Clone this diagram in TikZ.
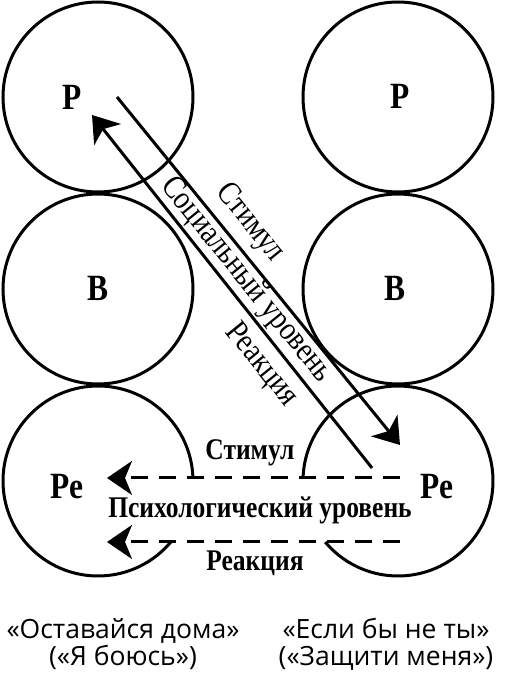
\documentclass[tikz,border=0pt]{standalone}
\usepackage{fontspec}
\setmainfont{Liberation Serif}
\newfontfamily\condfont[FakeStretch=0.85]{Liberation Serif}
\newfontfamily\capfont{Open Sans}
\usetikzlibrary{arrows.meta}

\tikzset{
  ring/.style={line width=3pt},
  egolbl/.style={font=\condfont\fontsize{37}{37}\selectfont\bfseries},
  lvllbl/.style={font=\condfont\fontsize{30}{30}\selectfont\bfseries},
  diaglbl/.style={font=\condfont\fontsize{33}{33}\selectfont, rotate=-51},
  caplbl/.style={font=\capfont\fontsize{26.5}{27}\selectfont, align=center},
  link/.style={line width=3pt, -{Stealth[length=25pt,width=34pt,inset=7pt]}},
  dlink/.style={link, dash pattern=on 17pt off 11pt},
}

\begin{document}
\begin{tikzpicture}[x=1pt,y=1pt]
    \useasboundingbox (0,0) rectangle (505,678);
    % obere Kreise:
    \draw[ring] (98,581) circle[radius=95]; % links
    \draw[ring] (398,581) circle[radius=95]; % rechts
    % mittlere Kreise:
    \draw[ring] (98,389) circle[radius=95];
    \draw[ring] (398,389) circle[radius=95];
    % untere Kreise, zur Mitte offen:
    \draw[ring] (98,197) ++(1.8:95) arc[start angle=1.8, end angle=320, radius=95];
    \draw[ring] (398,197) ++(178.2:95) arc[start angle=178.2, end angle=-140, radius=95];

    \node[egolbl] (P1) at (72,581) {Р};
    \node[egolbl] (P2) at (400,582) {Р};
    \node[egolbl] (B1) at (98,390) {В};
    \node[egolbl] (B2) at (395,390) {В};
    \node[egolbl] (Pe1) at (67,191) {Ре};
    \node[egolbl] (Pe2) at (437,191) {Ре};

    % sozialer Pfeil:
    \coordinate (soc1) at (117,581);
    \coordinate (soc2) at (400,233);
    \coordinate (soc3) at (372,210);
    \coordinate (soc4) at (92,563);
\draw[link] (soc1) -- (soc2); 
\draw[link] (soc3) -- (soc4); 
    \node[diaglbl] (socS) at (250,455) {Стимул};
    \node[diaglbl] (socL) at (246,398) {Социальный уровень};
    \node[diaglbl] (socR) at (261,313) {Реакция};

    % psychologische Pfeile:
    \coordinate (psy1) at (400,200);
    \coordinate (psy2) at (107,200);
    \coordinate (psy3) at (400,136);
    \coordinate (psy4) at (107,136);
\draw[dlink] (psy1) -- (psy2); 
\draw[dlink] (psy3) -- (psy4); 
    \node[lvllbl] (psyS) at (250,225) {Стимул};
    \node[lvllbl] (psyL) at (260,168) {Психологический уровень};
    \node[lvllbl] (psyR) at (255,115) {Реакция};

    \node[caplbl] (capL) at (123,34) {«Оставайся дома»\\(«Я боюсь»)};
    \node[caplbl] (capR) at (386,34) {«Если бы не ты»\\(«Защити меня»)};
\end{tikzpicture}
\end{document}
